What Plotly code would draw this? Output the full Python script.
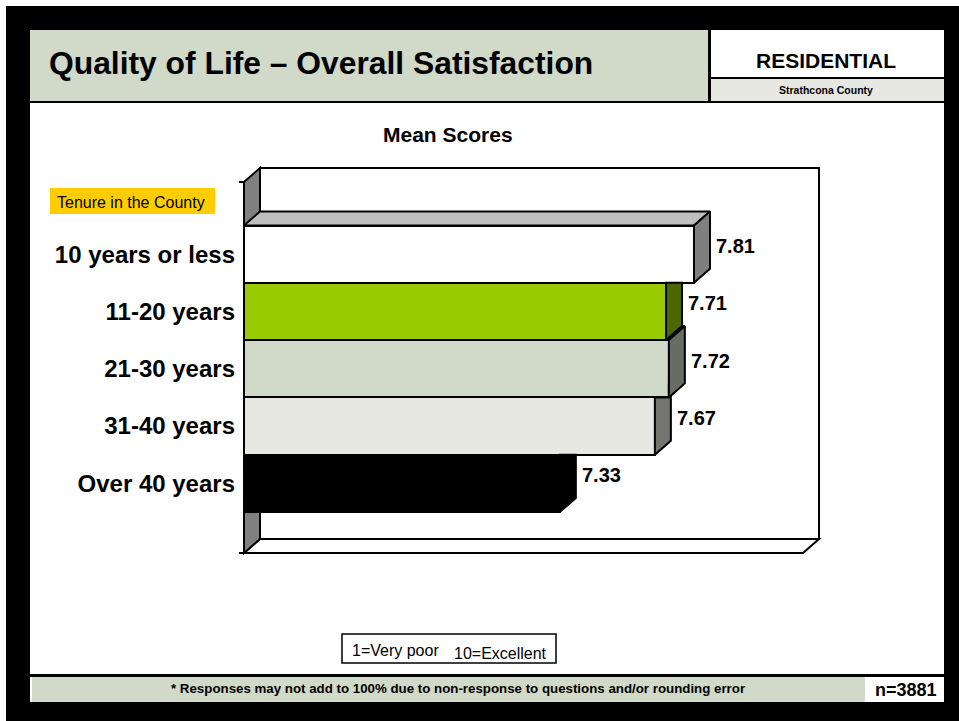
import plotly.graph_objects as go

W, H = 959, 721

# ---------------- data ----------------
categories = ["10 years or less", "11-20 years", "21-30 years", "31-40 years", "Over 40 years"]
mean_scores = [7.81, 7.71, 7.72, 7.67, 7.33]
front_colors = ["#FFFFFF", "#99CC00", "#D1D9C8", "#E8E8E3", "#000000"]
x_axis_min, x_axis_max = 6.2, 8.2

title_text = "Quality of Life – Overall Satisfaction"
chart_title = "Mean Scores"
group_label = "Tenure in the County"
footnote = "* Responses may not add to 100% due to non-response to questions and/or rounding error"
sample_size = "n=3881"

# ---------------- geometry (pixels) ----------------
PX_X0, PX_X1 = 244, 803          # front plane x for axis min / max
PX_BAR_TOP, PX_BAR_H = 225.5, 57.3
PX_FRONT_TOP, PX_FRONT_BOT = 182, 553
DEPTH_DX, DEPTH_DY = 16, 14
DOM_L, DOM_R, DOM_T, DOM_B = 238, 827, 158, 561

FONT = "Arial, Liberation Sans, sans-serif"

n = len(categories)
sx = (PX_X1 - PX_X0) / (x_axis_max - x_axis_min)


def xv(px):
    return x_axis_min + (px - PX_X0) / sx


def yv(py):
    return (n - 0.5) - (py - PX_BAR_TOP) / PX_BAR_H


dx = DEPTH_DX / sx
dy = DEPTH_DY / PX_BAR_H
ypos = [n - 1 - i for i in range(n)]


def shade(hexc, f):
    h = hexc.lstrip("#")
    r, g, b = (int(h[i:i + 2], 16) for i in (0, 2, 4))
    return "#%02X%02X%02X" % (int(r * f), int(g * f), int(b * f))


def prect(x0, y0, x1, y1, fill, line=None, lw=0):
    return dict(type="rect", xref="paper", yref="paper",
                x0=x0 / W, x1=x1 / W, y0=1 - y1 / H, y1=1 - y0 / H,
                fillcolor=fill, line=dict(color=line or fill, width=lw), layer="below")


def pline(x0, y0, x1, y1, lw=2, color="black"):
    return dict(type="line", xref="paper", yref="paper",
                x0=x0 / W, x1=x1 / W, y0=1 - y0 / H, y1=1 - y1 / H,
                line=dict(color=color, width=lw), layer="below")


def dpath(pts, fill, lw=2):
    d = "M " + " L ".join("%f,%f" % p for p in pts) + " Z"
    return dict(type="path", xref="x", yref="y", path=d, fillcolor=fill,
                line=dict(color="black", width=lw), layer="below")


def clip_halfplane(poly, xc):
    """Keep part of convex polygon with x >= xc (Sutherland-Hodgman)."""
    out = []
    m = len(poly)
    for k in range(m):
        p, q = poly[k], poly[(k + 1) % m]
        pin, qin = p[0] >= xc, q[0] >= xc
        if pin:
            out.append(p)
        if pin != qin:
            t = (xc - p[0]) / (q[0] - p[0])
            out.append((xc, p[1] + t * (q[1] - p[1])))
    return out


shapes = []
# page frame
shapes.append(prect(6, 6, 959, 721, "#000000"))
shapes.append(prect(30, 30, 944, 702, "#FFFFFF"))
# header
shapes.append(prect(30, 30, 708, 101, "#D1D9C8"))
shapes.append(prect(711, 79, 944, 101, "#E8E8E3"))
shapes.append(pline(709.5, 30, 709.5, 102, lw=3))
shapes.append(pline(711, 78, 944, 78, lw=2))
shapes.append(pline(30, 102, 944, 102, lw=2))
# footer
shapes.append(pline(30, 675.5, 944, 675.5, lw=3))
shapes.append(prect(32, 677, 865, 702, "#D1D9C8"))
# tenure label box
shapes.append(prect(50, 188, 215, 214, "#FFCC00"))
# scale legend box
shapes.append(prect(342, 634, 556, 663, "#FFFFFF", line="#000000", lw=1.5))

# 3D walls
fx0, fx1 = x_axis_min, x_axis_max
fy0, fy1 = yv(PX_FRONT_BOT), yv(PX_FRONT_TOP)
shapes.append(dpath([(fx0 + dx, fy0 + dy), (fx1 + dx, fy0 + dy), (fx1 + dx, fy1 + dy), (fx0 + dx, fy1 + dy)], "#FFFFFF"))
shapes.append(dpath([(fx0, fy0), (fx0 + dx, fy0 + dy), (fx1 + dx, fy0 + dy), (fx1, fy0)], "#FFFFFF"))
shapes.append(dpath([(fx0, fy0), (fx0, fy1), (fx0 + dx, fy1 + dy), (fx0 + dx, fy0 + dy)], "#808080"))
for yy in (fy0, fy1):
    shapes.append(dict(type="line", xref="x", yref="y", x0=xv(239), x1=fx0, y0=yy, y1=yy,
                       line=dict(color="black", width=2), layer="below"))

fig = go.Figure()

# front faces of the bars
fig.add_trace(go.Bar(
    y=ypos, x=[v - x_axis_min for v in mean_scores], base=x_axis_min,
    orientation="h", width=1,
    marker=dict(color=front_colors, line=dict(color="black", width=2)),
    hoverinfo="skip", showlegend=False,
))

# top and side faces, drawn from the bottom bar upward
for i in range(n - 1, -1, -1):
    v = mean_scores[i]
    yc = ypos[i]
    top, bot = yc + 0.5, yc - 0.5
    L, R = x_axis_min, v
    top_face = [(L, top), (L + dx, top + dy), (R + dx, top + dy), (R, top)]
    if i > 0:
        ra = mean_scores[i - 1]
        top_face = clip_halfplane(top_face, ra) if ra > L else top_face
        if ra <= R:
            side = [(R, bot), (R, top), (R + dx, top + dy), (R + dx, bot + dy)]
        elif ra >= R + dx:
            side = [(R, bot), (R, top), (R + dx, top), (R + dx, bot + dy)]
        else:
            side = [(R, bot), (R, top), (ra, top), (ra, top + (ra - R) * dy / dx),
                    (R + dx, top + dy), (R + dx, bot + dy)]
    else:
        side = [(R, bot), (R, top), (R + dx, top + dy), (R + dx, bot + dy)]
    for poly, f in ((top_face, 0.75), (side, 0.5)):
        if len(poly) >= 3:
            xs = [p[0] for p in poly] + [poly[0][0]]
            ys = [p[1] for p in poly] + [poly[0][1]]
            fig.add_trace(go.Scatter(
                x=xs, y=ys, mode="lines", fill="toself",
                fillcolor=shade(front_colors[i], f),
                line=dict(color="black", width=2),
                hoverinfo="skip", showlegend=False,
            ))

annotations = []
# value labels
for i, v in enumerate(mean_scores):
    annotations.append(dict(
        x=v + dx, y=ypos[i] + dy / 2, xref="x", yref="y", text="%.2f" % v,
        showarrow=False, xanchor="left", yanchor="middle", xshift=4, yshift=1,
        font=dict(family=FONT, size=20, color="black", weight="bold"),
    ))


def ptext(x, y, text, size, bold=True, xanchor="center"):
    return dict(x=x / W, y=1 - y / H, xref="paper", yref="paper", text=text,
                showarrow=False, xanchor=xanchor, yanchor="middle",
                font=dict(family=FONT, size=size, color="black",
                          weight="bold" if bold else "normal"))


annotations += [
    ptext(47, 63, title_text, 31.8, xanchor="left"),
    ptext(826, 61, "RESIDENTIAL", 21),
    ptext(826, 90, "Strathcona County", 10.5),
    ptext(448, 134, chart_title, 21),
    ptext(131, 202, group_label, 16, bold=False),
    ptext(395, 650, "1=Very poor", 16, bold=False),
    ptext(500, 653, "10=Excellent", 16, bold=False),
    ptext(458, 688, footnote, 13.3),
    ptext(906, 690, sample_size, 18),
]

fig.update_layout(
    width=W, height=H, margin=dict(l=0, r=0, t=0, b=0, pad=0),
    paper_bgcolor="white", plot_bgcolor="rgba(0,0,0,0)",
    showlegend=False, bargap=0,
    shapes=shapes, annotations=annotations,
    xaxis=dict(domain=[DOM_L / W, DOM_R / W], range=[xv(DOM_L), xv(DOM_R)],
               visible=False, fixedrange=True),
    yaxis=dict(domain=[1 - DOM_B / H, 1 - DOM_T / H], range=[yv(DOM_B), yv(DOM_T)],
               tickvals=ypos, ticktext=categories, showgrid=False, zeroline=False,
               showline=False, ticks="", ticklabelstandoff=2,
               tickfont=dict(family=FONT, size=24, color="black", weight="bold"),
               fixedrange=True),
)

fig.write_html(
    "out.html",
    config={"displayModeBar": False},
    post_script="document.body.style.margin='0px';document.body.style.overflow='hidden';",
)
